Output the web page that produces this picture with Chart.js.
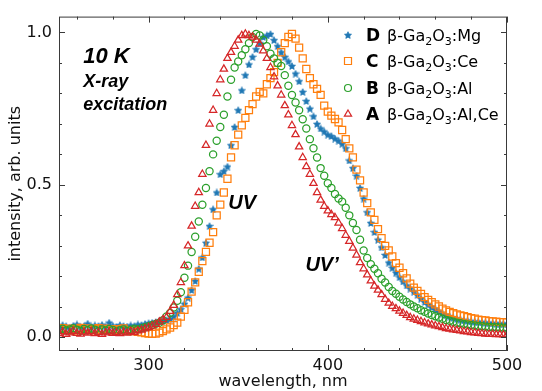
<!DOCTYPE html>
<html lang="en">
<head>
    <meta charset="UTF-8">
    <title>Ga2O3 X-ray luminescence</title>
    <style>
        body { margin: 0; background: #fff; }
        #wrap { width: 542px; height: 391px; }
    </style>
</head>
<body>
    <div id="wrap"><canvas id="lumGraph" width="542" height="391"></canvas></div>

    <script src="https://cdn.jsdelivr.net/npm/chart.js@4/dist/chart.umd.min.js"></script>
    <script>

    // wavelength grid, nm
    const wavelength = [
        250,252,254,256,258,260,262,264,266,268,270,272,274,276,278,280,282,284,286,288,290,292,294,296,
        298,300,302,304,306,308,310,312,314,316,318,320,322,324,326,328,330,332,334,336,338,340,342,344,346,348,
        350,352,354,356,358,360,362,364,366,368,370,372,374,376,378,380,382,384,386,388,390,392,394,396,398,
        400,402,404,406,408,410,412,414,416,418,420,422,424,426,428,430,432,434,436,438,440,442,444,446,448,
        450,452,454,456,458,460,462,464,466,468,470,472,474,476,478,480,482,484,486,488,490,492,494,496,498,500
    ];

    // D  b-Ga2O3:Mg
    const seriesD = [
        0.032,0.040,0.036,0.030,0.038,0.042,0.034,0.037,0.045,0.033,0.039,0.036,0.041,0.035,0.048,0.038,0.034,0.040,0.037,0.035,0.039,0.036,0.042,0.040,
        0.044,0.046,0.048,0.050,0.052,0.054,0.056,0.060,0.068,0.080,0.092,0.110,0.130,0.155,0.185,0.225,0.262,0.310,0.365,0.420,0.475,0.535,0.545,0.560,0.630,0.690,
        0.745,0.810,0.860,0.895,0.920,0.945,0.965,0.985,0.990,0.995,0.975,0.955,0.935,0.920,0.905,0.890,0.865,0.840,0.805,0.775,0.750,0.725,0.700,0.685,0.675,
        0.665,0.660,0.652,0.645,0.635,0.620,0.580,0.555,0.530,0.490,0.455,0.410,0.375,0.345,0.320,0.295,0.270,0.245,0.228,0.212,0.197,0.183,0.170,0.160,0.150,
        0.139,0.127,0.116,0.107,0.099,0.092,0.085,0.078,0.072,0.068,0.064,0.061,0.058,0.056,0.054,0.052,0.051,0.050,0.049,0.048,0.047,0.046,0.045,0.045,0.044,0.044
    ];

    // C  b-Ga2O3:Ce
    const seriesC = [
        0.026,0.030,0.024,0.028,0.022,0.027,0.031,0.025,0.029,0.023,0.027,0.030,0.024,0.028,0.026,0.022,0.027,0.025,0.029,0.023,0.020,0.022,0.018,0.016,
        0.014,0.012,0.011,0.012,0.015,0.020,0.026,0.032,0.040,0.048,0.068,0.090,0.115,0.150,0.180,0.215,0.250,0.280,0.310,0.345,0.400,0.435,0.475,0.520,0.590,0.630,
        0.665,0.695,0.720,0.745,0.765,0.790,0.805,0.800,0.830,0.850,0.870,0.900,0.935,0.965,0.985,0.995,0.980,0.950,0.915,0.880,0.850,0.830,0.815,0.795,0.760,
        0.740,0.727,0.716,0.705,0.680,0.650,0.620,0.590,0.550,0.515,0.475,0.440,0.410,0.385,0.355,0.325,0.300,0.285,0.265,0.243,0.228,0.210,0.193,0.176,0.163,
        0.152,0.142,0.132,0.123,0.115,0.108,0.101,0.094,0.088,0.083,0.079,0.075,0.072,0.069,0.066,0.063,0.061,0.058,0.056,0.055,0.053,0.052,0.051,0.050,0.050,0.049
    ];

    // B  b-Ga2O3:Al
    const seriesB = [
        0.024,0.028,0.022,0.026,0.030,0.025,0.021,0.027,0.023,0.029,0.025,0.020,0.026,0.022,0.027,0.024,0.018,0.023,0.026,0.021,0.025,0.028,0.026,0.030,
        0.033,0.036,0.040,0.044,0.048,0.056,0.068,0.080,0.098,0.120,0.148,0.195,0.235,0.280,0.330,0.380,0.435,0.490,0.545,0.600,0.645,0.690,0.730,0.790,0.845,0.885,
        0.905,0.925,0.945,0.965,0.985,0.995,0.990,0.975,0.955,0.930,0.915,0.900,0.890,0.860,0.825,0.795,0.770,0.745,0.715,0.685,0.650,0.620,0.590,0.555,0.530,
        0.505,0.490,0.470,0.455,0.445,0.425,0.400,0.375,0.352,0.320,0.285,0.260,0.240,0.225,0.210,0.192,0.180,0.165,0.152,0.143,0.133,0.124,0.116,0.108,0.101,
        0.095,0.089,0.084,0.078,0.073,0.069,0.065,0.061,0.057,0.054,0.051,0.048,0.046,0.044,0.042,0.040,0.039,0.037,0.036,0.035,0.034,0.033,0.033,0.032,0.031,0.031
    ];

    // A  b-Ga2O3:Al,Ce
    const seriesA = [
        0.012,0.018,0.010,0.015,0.020,0.013,0.011,0.017,0.014,0.019,0.012,0.016,0.010,0.015,0.018,0.013,0.016,0.012,0.017,0.014,0.019,0.016,0.021,0.024,
        0.028,0.032,0.037,0.043,0.050,0.058,0.066,0.085,0.105,0.140,0.180,0.235,0.300,0.365,0.430,0.475,0.535,0.630,0.700,0.745,0.800,0.845,0.880,0.915,0.935,0.955,
        0.975,0.990,0.995,0.990,0.985,0.975,0.962,0.940,0.915,0.885,0.855,0.825,0.795,0.760,0.730,0.695,0.665,0.625,0.590,0.560,0.535,0.505,0.475,0.450,0.430,
        0.415,0.403,0.393,0.375,0.357,0.335,0.315,0.293,0.270,0.245,0.225,0.205,0.185,0.168,0.155,0.140,0.125,0.112,0.102,0.094,0.086,0.079,0.072,0.065,0.060,
        0.056,0.052,0.048,0.044,0.041,0.038,0.035,0.032,0.029,0.027,0.025,0.023,0.021,0.019,0.018,0.016,0.015,0.013,0.012,0.011,0.010,0.010,0.009,0.009,0.008,0.008
    ];

    const xTickValues = [260,280,300,320,340,360,380,400,420,440,460,480,500];
    const xTickLabels = [300, 400, 500];
    const yTickValues = [0,0.1,0.2,0.3,0.4,0.5,0.6,0.7,0.8,0.9,1.0];
    const yTickLabels = [0, 0.5, 1.0];

    const legendLetters = ["D", "C", "B", "A"];
    const legendDopants = ["Mg", "Ce", "Al", "Al,Ce"];
    const colors = ["#1f77b4", "#ff7f0e", "#2ca02c", "#d62728"];

    function toPoints(ys) {
        return ys.map((y, i) => ({x: wavelength[i], y: y}));
    }

    function starMarker(color, size) {
        const c = document.createElement("canvas");
        c.width = size; c.height = size;
        const g = c.getContext("2d");
        const r = size / 2;
        g.beginPath();
        for (let i = 0; i < 10; i++) {
            const a = -Math.PI / 2 + i * Math.PI / 5;
            const rr = (i % 2) ? r * 0.45 : r - 0.3;
            g.lineTo(r + rr * Math.cos(a), r + 0.4 + rr * Math.sin(a));
        }
        g.closePath();
        g.fillStyle = color;
        g.fill();
        g.strokeStyle = color;
        g.lineWidth = 0.7;
        g.stroke();
        return c;
    }
    const star = starMarker(colors[0], 8);

    // inward ticks on all four sides + frame
    const frameTicks = {
        id: "frameTicks",
        afterDraw(chart) {
            const ctx = chart.ctx;
            const a = chart.chartArea;
            const xs = chart.scales.x, ys = chart.scales.y;
            ctx.save();
            ctx.strokeStyle = "#3a3a3a";
            ctx.lineWidth = 1;
            ctx.strokeRect(a.left + 0.5, a.top + 0.5, a.right - a.left - 1, a.bottom - a.top - 1);
            ctx.beginPath();
            xTickValues.forEach(v => {
                const px = Math.round(xs.getPixelForValue(v)) + 0.5;
                const len = xTickLabels.includes(v) ? 6 : 3;
                ctx.moveTo(px, a.bottom); ctx.lineTo(px, a.bottom - len);
                ctx.moveTo(px, a.top); ctx.lineTo(px, a.top + len);
            });
            yTickValues.forEach(v => {
                const py = Math.round(ys.getPixelForValue(v)) + 0.5;
                const len = yTickLabels.some(t => Math.abs(t - v) < 1e-6) ? 6 : 3;
                ctx.moveTo(a.left, py); ctx.lineTo(a.left + len, py);
                ctx.moveTo(a.right, py); ctx.lineTo(a.right - len, py);
            });
            ctx.stroke();
            ctx.restore();
        }
    };

    // text with subscripts: [text, isSub]
    function drawSegments(ctx, x, y, segs) {
        segs.forEach(s => {
            ctx.font = s[1] ? "11px 'DejaVu Sans'" : "16px 'DejaVu Sans'";
            ctx.fillText(s[0], x, s[1] ? y + 4 : y);
            x += ctx.measureText(s[0]).width;
        });
    }

    const legendAndNotes = {
        id: "legendAndNotes",
        afterDraw(chart) {
            const ctx = chart.ctx;
            const xs = chart.scales.x, ys = chart.scales.y;
            ctx.save();
            ctx.fillStyle = "#000";
            ctx.textBaseline = "alphabetic";
            ctx.textAlign = "left";

            // legend
            const rowBase = [41, 67, 94, 120];
            legendLetters.forEach((L, i) => {
                const by = rowBase[i];
                const my = by - 6;
                const mx = 348;
                ctx.strokeStyle = colors[i];
                ctx.lineWidth = 1.2;
                ctx.beginPath();
                if (i === 0) {
                    ctx.drawImage(star, mx - 4, my - 4);
                } else if (i === 1) {
                    ctx.rect(mx - 3.5, my - 3.5, 7, 7);
                } else if (i === 2) {
                    ctx.arc(mx, my, 3.5, 0, Math.PI * 2);
                } else {
                    ctx.moveTo(mx, my - 4);
                    ctx.lineTo(mx + 3.6, my + 2.2);
                    ctx.lineTo(mx - 3.6, my + 2.2);
                    ctx.closePath();
                }
                ctx.stroke();
                ctx.fillStyle = "#000";
                ctx.font = "bold 17px 'DejaVu Sans'";
                ctx.fillText(L, 366, by);
                drawSegments(ctx, 387, by, [["β-Ga", false], ["2", true], ["O", false], ["3", true], [":" + legendDopants[i], false]]);
            });

            // annotations
            ctx.font = "italic bold 22px 'Liberation Sans'";
            ctx.fillText("10 K", xs.getPixelForValue(263.5), ys.getPixelForValue(0.90));
            ctx.font = "italic bold 18px 'Liberation Sans'";
            ctx.fillText("X-ray", xs.getPixelForValue(263.5), ys.getPixelForValue(0.82));
            ctx.fillText("excitation", xs.getPixelForValue(263.5), ys.getPixelForValue(0.745));
            ctx.font = "italic bold 20px 'Liberation Sans'";
            ctx.fillText("UV", xs.getPixelForValue(344.5), ys.getPixelForValue(0.422));
            ctx.fillText("UV\u2019", xs.getPixelForValue(387.5), ys.getPixelForValue(0.218));
            ctx.restore();
        }
    };

    const ctx = document.getElementById("lumGraph").getContext("2d");

    // A drawn on top, D at the bottom
    const chart = new Chart(ctx, {
        type: "scatter",
        data: {
            datasets: [
                {label: "A", data: toPoints(seriesA), pointStyle: "triangle", pointRadius: 4.2,
                 borderColor: colors[3], backgroundColor: "rgba(0,0,0,0)", borderWidth: 1.25},
                {label: "B", data: toPoints(seriesB), pointStyle: "circle", pointRadius: 3.6,
                 borderColor: colors[2], backgroundColor: "rgba(0,0,0,0)", borderWidth: 1.25},
                {label: "C", data: toPoints(seriesC), pointStyle: "rect", pointRadius: 5,
                 borderColor: colors[1], backgroundColor: "rgba(0,0,0,0)", borderWidth: 1.25},
                {label: "D", data: toPoints(seriesD), pointStyle: star, pointRadius: 4,
                 borderColor: colors[0], backgroundColor: colors[0], borderWidth: 1}
            ]
        },
        options: {
            responsive: false,
            animation: false,
            events: [],
            layout: {padding: {top: 13, right: 35, left: 0, bottom: 0}},
            scales: {
                x: {
                    type: "linear",
                    min: 250, max: 500,
                    afterFit: s => { s.height = 40; },
                    afterBuildTicks: s => { s.ticks = xTickValues.map(v => ({value: v})); },
                    grid: {display: false, drawTicks: false},
                    border: {display: false},
                    ticks: {
                        padding: 5,
                        color: "#111",
                        font: {family: "'DejaVu Sans'", size: 16},
                        maxRotation: 0,
                        autoSkip: false,
                        callback: v => xTickLabels.includes(v) ? String(v) : ""
                    },
                    title: {
                        display: true,
                        text: "wavelength, nm",
                        color: "#111",
                        font: {family: "'DejaVu Sans'", size: 16},
                        padding: {top: 0, bottom: 0}
                    }
                },
                y: {
                    type: "linear",
                    min: -0.045, max: 1.052,
                    afterFit: s => { s.width = 59; },
                    afterBuildTicks: s => { s.ticks = yTickValues.map(v => ({value: v})); },
                    grid: {display: false, drawTicks: false},
                    border: {display: false},
                    ticks: {
                        padding: 7,
                        color: "#111",
                        font: {family: "'DejaVu Sans'", size: 16},
                        autoSkip: false,
                        callback: v => yTickLabels.some(t => Math.abs(t - v) < 1e-6) ? v.toFixed(1) : ""
                    },
                    title: {
                        display: true,
                        text: "intensity, arb. units",
                        color: "#111",
                        font: {family: "'DejaVu Sans'", size: 16},
                        padding: {top: 6, bottom: 0}
                    }
                }
            },
            plugins: {
                legend: {display: false},
                tooltip: {enabled: false}
            }
        },
        plugins: [frameTicks, legendAndNotes]
    });

    </script>
</body>
</html>
